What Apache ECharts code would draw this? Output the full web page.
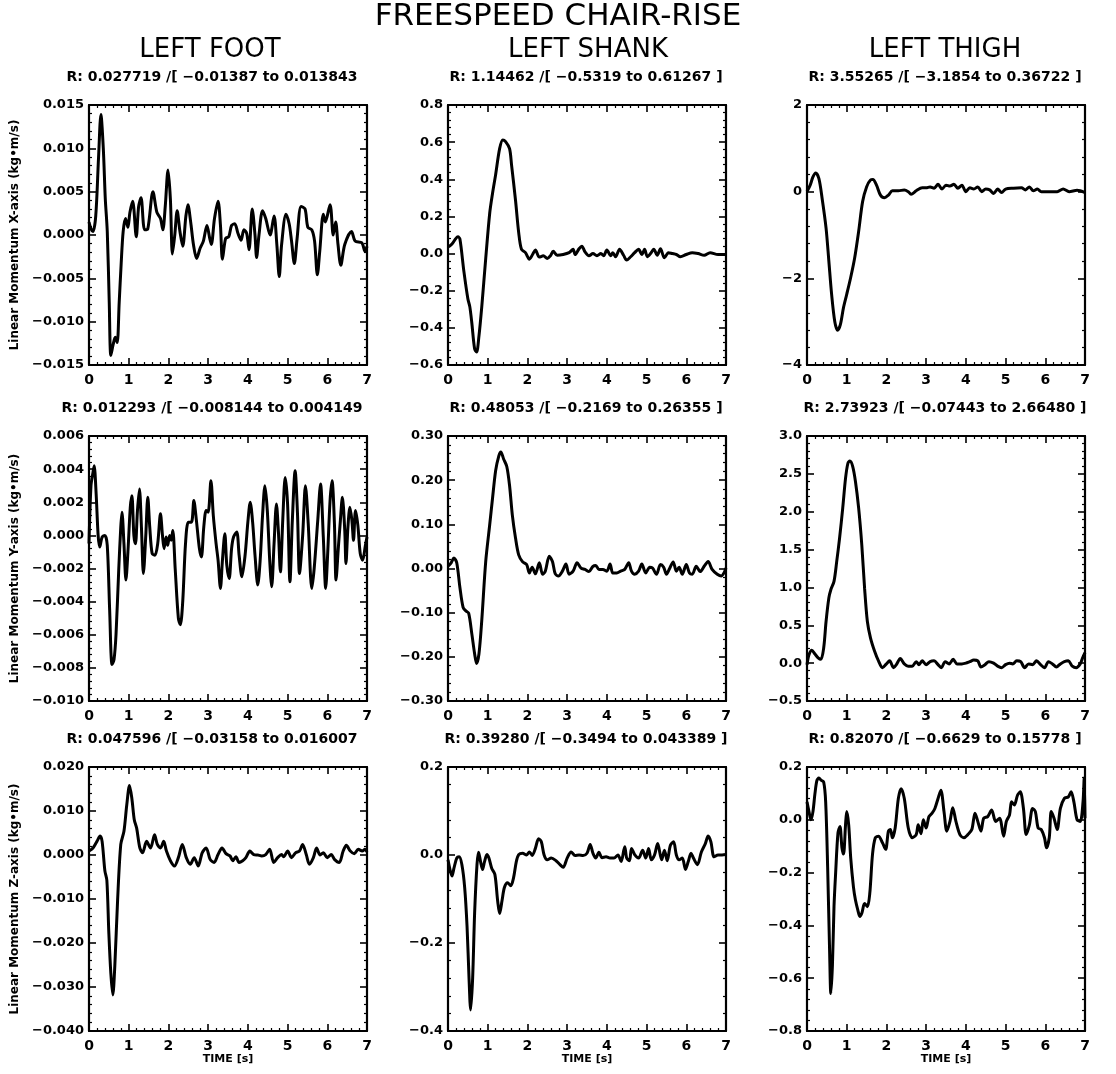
<!DOCTYPE html>
<html>
<head>
<meta charset="utf-8">
<script src="https://cdn.jsdelivr.net/npm/echarts@6/dist/echarts.min.js"></script>
<style>
html,body{margin:0;padding:0;background:#fff;}
#chart{width:1116px;height:1074px;}
</style>
</head>
<body>
<div id="chart"></div>
<script>
// ---------------- DATA ----------------
const mainTitle = "FREESPEED CHAIR-RISE";
const columnTitles = ["LEFT FOOT", "LEFT SHANK", "LEFT THIGH"];
const rowAxisNames = [
  "Linear Momentum X-axis (kg\u2022m/s)",
  "Linear Momentum Y-axis (kg\u2022m/s)",
  "Linear Momentum Z-axis (kg\u2022m/s)"
];
const panelSubtitles = [
  "R: 0.027719 /[ -0.01387 to 0.013843",
  "R: 1.14462 /[ -0.5319 to 0.61267 ]",
  "R: 3.55265 /[ -3.1854 to 0.36722 ]",
  "R: 0.012293 /[ -0.008144 to 0.004149",
  "R: 0.48053 /[ -0.2169 to 0.26355 ]",
  "R: 2.73923 /[ -0.07443 to 2.66480 ]",
  "R: 0.047596 /[ -0.03158 to 0.016007",
  "R: 0.39280 /[ -0.3494 to 0.043389 ]",
  "R: 0.82070 /[ -0.6629 to 0.15778 ]"
];
const xAxisName = "TIME [s]";
const xTicks = {min: 0, max: 7, interval: 1};
// y axis ranges: [min, max, interval, decimals]
const yRanges = [
  [-0.015, 0.015, 0.005, 3], [-0.6, 0.8, 0.2, 1], [-4, 2, 2, 0],
  [-0.010, 0.006, 0.002, 3], [-0.30, 0.30, 0.10, 2], [-0.5, 3.0, 0.5, 1],
  [-0.040, 0.020, 0.010, 3], [-0.4, 0.2, 0.2, 1], [-0.8, 0.2, 0.2, 1]
];

// series: [time (s), momentum]
const footX = [[0,0.0015],[0.05,0.0007],[0.1,0.0004],[0.17,0.0022],[0.24,0.0089],[0.3,0.0139],[0.36,0.010],[0.41,0.0042],[0.46,0.0004],[0.51,-0.0078],[0.55,-0.0139],[0.61,-0.0126],[0.66,-0.0118],[0.71,-0.0124],[0.76,-0.0078],[0.81,-0.0033],[0.86,0.0004],[0.92,0.0019],[0.98,0.0009],[1.03,0.0026],[1.1,0.0039],[1.19,-0.0002],[1.25,0.0033],[1.31,0.0043],[1.4,0.0006],[1.48,0.0007],[1.61,0.005],[1.71,0.0026],[1.8,0.0019],[1.86,0.0006],[1.92,0.0033],[1.99,0.0075],[2.05,0.0041],[2.1,-0.0022],[2.16,0],[2.22,0.0028],[2.29,0.0004],[2.36,-0.0013],[2.44,0.0022],[2.49,0.0035],[2.56,0.0015],[2.63,-0.0011],[2.71,-0.0027],[2.8,-0.0015],[2.88,-0.0007],[2.97,0.0011],[3.04,-0.0004],[3.08,-0.0011],[3.16,0.0019],[3.25,0.0039],[3.31,0.0011],[3.36,-0.0028],[3.44,-0.0004],[3.52,-0.0002],[3.59,0.0011],[3.67,0.0013],[3.75,0.0002],[3.83,-0.0006],[3.9,0.0006],[3.97,0.0002],[4.03,-0.0017],[4.11,0.003],[4.18,0],[4.22,-0.0026],[4.28,0],[4.37,0.0028],[4.45,0.0019],[4.56,0],[4.66,0.0022],[4.73,-0.0011],[4.79,-0.0048],[4.85,-0.0011],[4.96,0.0024],[5.04,0.0013],[5.1,-0.0007],[5.17,-0.0033],[5.24,-0.0004],[5.34,0.0033],[5.44,0.003],[5.51,0.0009],[5.61,0.0006],[5.68,-0.0007],[5.75,-0.0046],[5.81,-0.0019],[5.9,0.0024],[5.95,0.0015],[6.07,0.0035],[6.15,0],[6.21,0.0015],[6.27,-0.0011],[6.34,-0.0035],[6.44,-0.0011],[6.61,0.0004],[6.7,-0.0007],[6.87,-0.0009],[6.95,-0.0019],[7.0,-0.0013]];

const shankX = [[0,0.035],[0.1,0.052],[0.2,0.082],[0.25,0.09],[0.3,0.078],[0.4,-0.096],[0.5,-0.243],[0.55,-0.287],[0.6,-0.374],[0.67,-0.513],[0.72,-0.53],[0.78,-0.443],[0.85,-0.287],[0.95,-0.026],[1.05,0.217],[1.12,0.322],[1.2,0.426],[1.3,0.565],[1.38,0.612],[1.45,0.603],[1.55,0.565],[1.6,0.478],[1.7,0.287],[1.78,0.113],[1.85,0.023],[1.95,0.005],[2.05,-0.03],[2.13,-0.005],[2.2,0.019],[2.3,-0.019],[2.4,-0.012],[2.5,-0.026],[2.58,-0.012],[2.65,0.012],[2.75,-0.009],[2.9,-0.005],[3.05,0.005],[3.15,0.023],[3.2,-0.005],[3.3,0.026],[3.37,0.04],[3.45,0.009],[3.55,-0.012],[3.65,0],[3.75,-0.012],[3.85,0],[3.92,-0.012],[4.0,0.019],[4.1,-0.012],[4.15,0.005],[4.22,-0.017],[4.32,0.023],[4.42,-0.009],[4.5,-0.035],[4.6,-0.017],[4.7,0.005],[4.8,0.023],[4.88,-0.005],[4.95,0.023],[5.02,-0.017],[5.1,0],[5.18,0.023],[5.27,-0.009],[5.35,0.026],[5.45,-0.023],[5.55,0.005],[5.65,0],[5.75,-0.005],[5.85,-0.017],[6.0,-0.005],[6.15,0.005],[6.3,0],[6.45,-0.009],[6.6,0.005],[6.8,-0.005],[7.0,-0.005]];

const thighX = [[0,0],[0.08,0.15],[0.15,0.34],[0.22,0.43],[0.3,0.3],[0.38,-0.15],[0.48,-0.84],[0.55,-1.6],[0.62,-2.37],[0.7,-3.0],[0.77,-3.2],[0.84,-3.07],[0.92,-2.67],[1.0,-2.37],[1.1,-1.98],[1.2,-1.53],[1.3,-0.92],[1.4,-0.23],[1.5,0.11],[1.6,0.27],[1.66,0.28],[1.75,0.15],[1.85,-0.08],[1.95,-0.14],[2.05,-0.08],[2.15,0.02],[2.3,0.02],[2.45,0.04],[2.55,0],[2.62,-0.06],[2.75,0.02],[2.9,0.09],[3.0,0.09],[3.1,0.11],[3.2,0.08],[3.3,0.17],[3.4,0.06],[3.5,0.15],[3.6,0.13],[3.7,0.17],[3.8,0.08],[3.9,0.15],[4.0,0],[4.1,0.09],[4.2,0.06],[4.3,0.11],[4.4,0],[4.5,0.06],[4.6,0.04],[4.7,-0.04],[4.8,0.06],[4.9,-0.02],[5.0,0.06],[5.2,0.08],[5.4,0.09],[5.5,0.04],[5.6,0.11],[5.7,0.02],[5.8,0.06],[5.9,0],[6.1,0],[6.3,0],[6.45,0.06],[6.6,0],[6.8,0.03],[7.0,-0.02]];

const footY = [[0,-0.0005],[0.05,0.003],[0.1,0.0038],[0.13,0.0042],[0.18,0.0025],[0.23,0.0],[0.27,-0.0007],[0.33,-0.0001],[0.4,0],[0.46,-0.0006],[0.52,-0.0045],[0.58,-0.0078],[0.63,-0.0075],[0.68,-0.006],[0.75,-0.002],[0.8,0.0005],[0.83,0.0014],[0.88,-0.0005],[0.93,-0.0027],[0.98,-0.001],[1.04,0.0017],[1.08,0.0024],[1.13,0.0],[1.17,-0.0005],[1.22,0.0015],[1.27,0.0028],[1.32,0.0005],[1.37,-0.0023],[1.43,0],[1.48,0.0023],[1.53,0.0005],[1.59,-0.0011],[1.66,-0.0012],[1.73,-0.0005],[1.8,0.0013],[1.85,0],[1.89,-0.0008],[1.94,-0.0001],[1.98,-0.0006],[2.03,0],[2.07,-0.0003],[2.11,0.0003],[2.17,-0.002],[2.25,-0.005],[2.3,-0.0054],[2.36,-0.004],[2.43,-0.0005],[2.5,0.0008],[2.58,0.0008],[2.64,0.0021],[2.7,0.001],[2.78,-0.0008],[2.83,-0.0013],[2.89,0.0005],[2.95,0.0015],[3.0,0.0014],[3.07,0.0033],[3.13,0.0012],[3.2,-0.0005],[3.25,-0.0015],[3.31,-0.0032],[3.36,-0.0015],[3.42,0.0001],[3.47,-0.0018],[3.53,-0.0026],[3.59,-0.0008],[3.64,-0.0001],[3.72,0.0002],[3.78,-0.0012],[3.85,-0.0025],[3.93,-0.0012],[4.0,0.0008],[4.06,0.002],[4.12,0.0008],[4.18,-0.0012],[4.25,-0.003],[4.31,-0.0015],[4.37,0.0012],[4.43,0.003],[4.49,0.0015],[4.55,-0.0015],[4.6,-0.0031],[4.66,-0.0005],[4.72,0.0019],[4.77,0.0002],[4.82,-0.0022],[4.88,0.001],[4.94,0.0035],[5.0,0.0019],[5.06,-0.0028],[5.12,0.0009],[5.19,0.0039],[5.25,0.0013],[5.3,-0.0023],[5.38,0.0],[5.45,0.003],[5.52,0.0007],[5.61,-0.0032],[5.67,-0.002],[5.76,0.0009],[5.83,0.0031],[5.9,-0.0001],[5.96,-0.0032],[6.01,-0.0011],[6.07,0.0021],[6.12,0.0033],[6.18,0.0007],[6.22,-0.0027],[6.28,-0.0007],[6.33,0.0009],[6.38,0.0023],[6.44,0.0003],[6.47,-0.0017],[6.52,0.0005],[6.57,0.0017],[6.62,0.0009],[6.66,-0.0003],[6.71,0.0015],[6.77,0.0006],[6.83,-0.0011],[6.89,-0.0015],[6.96,-0.0006],[7.0,-0.0001]];

const shankY = [[0,0.005],[0.08,0.013],[0.15,0.024],[0.22,0.013],[0.3,-0.043],[0.38,-0.088],[0.45,-0.096],[0.52,-0.101],[0.6,-0.148],[0.67,-0.193],[0.72,-0.215],[0.78,-0.193],[0.85,-0.118],[0.95,0.016],[1.05,0.099],[1.12,0.158],[1.2,0.222],[1.28,0.255],[1.33,0.264],[1.4,0.248],[1.48,0.231],[1.55,0.188],[1.62,0.121],[1.7,0.069],[1.78,0.031],[1.88,0.015],[1.98,0.009],[2.05,-0.01],[2.12,0.003],[2.2,-0.012],[2.3,0.013],[2.38,-0.013],[2.45,-0.006],[2.55,0.028],[2.63,0.016],[2.7,-0.012],[2.78,-0.017],[2.88,-0.006],[2.97,0.01],[3.05,-0.013],[3.15,-0.006],[3.25,0.013],[3.35,0.001],[3.45,-0.002],[3.55,-0.007],[3.65,0.005],[3.72,0.007],[3.8,-0.002],[3.9,-0.002],[4.0,-0.006],[4.08,0.01],[4.15,-0.01],[4.25,-0.01],[4.35,-0.006],[4.45,-0.002],[4.55,0.013],[4.62,-0.006],[4.7,-0.013],[4.8,-0.006],[4.88,0.01],[4.98,-0.01],[5.08,0.003],[5.15,0.001],[5.25,-0.013],[5.35,0.009],[5.43,0.003],[5.5,-0.013],[5.58,0],[5.67,0.015],[5.75,-0.006],[5.82,0.003],[5.9,-0.013],[6.0,0.009],[6.08,-0.01],[6.15,-0.013],[6.25,0.005],[6.35,-0.007],[6.45,0.005],[6.55,0.016],[6.65,-0.002],[6.78,-0.013],[6.88,-0.017],[6.95,-0.01],[7.0,0.001]];

const thighY = [[0,-0.02],[0.05,0.11],[0.12,0.17],[0.2,0.12],[0.28,0.07],[0.35,0.05],[0.42,0.2],[0.48,0.55],[0.55,0.86],[0.6,0.97],[0.68,1.08],[0.75,1.35],[0.82,1.65],[0.9,2.05],[0.97,2.44],[1.03,2.64],[1.08,2.67],[1.15,2.6],[1.22,2.4],[1.3,2.05],[1.38,1.56],[1.45,0.99],[1.52,0.55],[1.6,0.33],[1.7,0.16],[1.8,0.03],[1.9,-0.06],[2.0,-0.01],[2.08,0.03],[2.18,-0.06],[2.25,-0.02],[2.35,0.06],[2.45,-0.01],[2.55,-0.04],[2.65,-0.04],[2.75,0.02],[2.82,-0.02],[2.9,0.03],[3.0,-0.02],[3.1,0.02],[3.2,0.03],[3.3,-0.02],[3.38,-0.06],[3.48,0.02],[3.58,-0.01],[3.68,0.05],[3.78,-0.01],[3.9,-0.01],[4.0,0],[4.1,0.02],[4.2,0.04],[4.3,0.03],[4.38,-0.05],[4.48,-0.02],[4.58,0.02],[4.7,0],[4.8,-0.04],[4.9,-0.06],[5.0,-0.02],[5.1,0],[5.18,-0.01],[5.28,0.03],[5.38,0.02],[5.48,-0.06],[5.58,-0.01],[5.68,-0.02],[5.78,0.03],[5.88,-0.02],[5.98,-0.06],[6.08,0.02],[6.18,-0.01],[6.28,-0.05],[6.38,-0.01],[6.48,0.02],[6.58,0.03],[6.68,-0.04],[6.78,-0.06],[6.88,-0.01],[6.94,0.07],[7.0,0.14]];

const footZ = [[0,0.0009],[0.1,0.0016],[0.2,0.0031],[0.28,0.0043],[0.33,0.0031],[0.4,-0.0036],[0.45,-0.0058],[0.5,-0.0178],[0.55,-0.0269],[0.6,-0.0318],[0.65,-0.0252],[0.72,-0.0103],[0.8,0.0024],[0.88,0.0054],[0.95,0.0113],[1.02,0.0158],[1.08,0.0128],[1.14,0.008],[1.2,0.0061],[1.28,0.0016],[1.35,0.0005],[1.45,0.0031],[1.55,0.0016],[1.65,0.0046],[1.72,0.0024],[1.8,0.0016],[1.88,0.0031],[1.95,0.0009],[2.05,-0.0013],[2.15,-0.0025],[2.25,-0.0006],[2.35,0.0024],[2.45,-0.0006],[2.55,-0.0021],[2.65,-0.0006],[2.75,-0.0025],[2.85,0.0005],[2.95,0.0016],[3.05,-0.001],[3.15,-0.0017],[3.25,0.0001],[3.35,0.0016],[3.45,0.0003],[3.55,-0.0002],[3.62,-0.0013],[3.7,-0.0004],[3.78,-0.0017],[3.87,-0.0013],[3.95,-0.0006],[4.05,0.0009],[4.15,0.0001],[4.25,0],[4.35,-0.0002],[4.45,0.0001],[4.55,0.0013],[4.65,-0.0017],[4.75,-0.0006],[4.85,0.0001],[4.9,-0.0004],[5.0,0.0009],[5.1,-0.0006],[5.2,0.0005],[5.3,0.0009],[5.38,0.0024],[5.47,0.0001],[5.55,-0.0021],[5.65,-0.0006],[5.73,0.0016],[5.82,0],[5.9,0.0005],[6.0,-0.0006],[6.1,0.0001],[6.18,-0.001],[6.3,-0.0017],[6.4,0.0009],[6.48,0.0022],[6.58,0.0009],[6.68,0.0003],[6.78,0.0013],[6.88,0.0009],[6.95,0.0013],[7.0,0.0007]];

const shankZ = [[0,-0.011],[0.05,-0.033],[0.1,-0.048],[0.15,-0.03],[0.22,-0.007],[0.28,-0.004],[0.35,-0.022],[0.42,-0.074],[0.48,-0.163],[0.53,-0.281],[0.57,-0.352],[0.62,-0.281],[0.67,-0.133],[0.73,-0.022],[0.77,0.006],[0.82,-0.015],[0.87,-0.033],[0.92,-0.015],[0.98,0.001],[1.03,-0.007],[1.1,-0.03],[1.18,-0.044],[1.25,-0.104],[1.3,-0.133],[1.36,-0.104],[1.42,-0.074],[1.5,-0.063],[1.58,-0.07],[1.65,-0.052],[1.72,-0.015],[1.78,0.001],[1.88,0.004],[1.98,0],[2.05,0.007],[2.12,-0.001],[2.2,0.015],[2.28,0.037],[2.35,0.03],[2.42,0],[2.5,-0.011],[2.6,-0.007],[2.72,-0.013],[2.82,-0.022],[2.9,-0.028],[3.0,-0.007],[3.1,0.007],[3.2,-0.001],[3.3,0],[3.4,-0.001],[3.5,0.004],[3.58,0.024],[3.65,0.004],[3.72,-0.007],[3.8,0.006],[3.88,-0.006],[3.98,-0.004],[4.08,-0.007],[4.18,-0.007],[4.28,0],[4.36,-0.015],[4.45,0.019],[4.5,-0.007],[4.57,-0.013],[4.62,0.015],[4.7,0.001],[4.8,-0.007],[4.9,0.011],[4.98,-0.007],[5.05,0.015],[5.12,-0.011],[5.2,0],[5.28,0.026],[5.38,-0.011],[5.45,0.011],[5.52,-0.013],[5.6,0.022],[5.68,0.03],[5.75,0],[5.82,-0.011],[5.9,-0.007],[5.98,-0.033],[6.05,-0.015],[6.12,0.004],[6.18,-0.007],[6.28,-0.022],[6.38,0.007],[6.48,0.026],[6.55,0.043],[6.62,0.03],[6.7,-0.004],[6.8,0],[6.9,0],[7.0,0.001]];

const thighZ = [[0,0.068],[0.05,0.031],[0.1,0],[0.15,0.031],[0.2,0.099],[0.25,0.149],[0.3,0.158],[0.36,0.149],[0.42,0.143],[0.47,0.068],[0.52,-0.18],[0.57,-0.503],[0.6,-0.658],[0.64,-0.553],[0.68,-0.329],[0.72,-0.205],[0.78,-0.05],[0.83,-0.025],[0.88,-0.106],[0.92,-0.13],[0.97,-0.019],[1.0,0.031],[1.05,-0.019],[1.1,-0.143],[1.17,-0.255],[1.22,-0.304],[1.28,-0.342],[1.33,-0.366],[1.38,-0.354],[1.45,-0.317],[1.52,-0.329],[1.58,-0.28],[1.65,-0.13],[1.72,-0.068],[1.8,-0.062],[1.9,-0.087],[1.98,-0.112],[2.05,-0.043],[2.1,-0.037],[2.15,-0.068],[2.22,-0.031],[2.3,0.081],[2.37,0.118],[2.45,0.081],[2.55,-0.031],[2.65,-0.068],[2.75,-0.056],[2.8,-0.019],[2.87,-0.053],[2.93,0],[3.0,-0.031],[3.07,0.012],[3.15,0.025],[3.22,0.043],[3.3,0.081],[3.37,0.112],[3.45,0.031],[3.52,-0.043],[3.6,-0.006],[3.67,0.046],[3.75,-0.006],[3.85,-0.056],[3.95,-0.068],[4.05,-0.056],[4.15,-0.037],[4.23,0.025],[4.3,-0.006],[4.38,-0.043],[4.45,0.006],[4.55,0.012],[4.65,0.037],[4.75,-0.006],[4.85,0.006],[4.95,-0.062],[5.02,-0.006],[5.1,0.019],[5.15,0.068],[5.22,0.056],[5.3,0.093],[5.37,0.106],[5.45,0.043],[5.52,-0.056],[5.6,-0.019],[5.68,0.043],[5.75,0.031],[5.82,-0.031],[5.9,-0.037],[5.98,-0.068],[6.03,-0.106],[6.1,-0.068],[6.15,0.031],[6.22,0.006],[6.3,-0.037],[6.38,0.043],[6.48,0.081],[6.58,0.087],[6.65,0.106],[6.72,0.068],[6.8,0],[6.88,-0.006],[6.95,0.068],[6.98,0.158],[7.0,0.006]];

const panelSeries = [footX, shankX, thighX, footY, shankY, thighY, footZ, shankZ, thighZ];

// ---------------- LAYOUT ----------------
const colLeft = [89, 448, 807];
const colWidth = 278;
const rowTop = [105, 436, 767];
const rowHeight = [260, 265, 264];
const colCenter = [212, 586, 945];

const FONT = '"DejaVu Sans", "Liberation Sans", sans-serif';
const minus = s => s.replace(/-/g, '\u2212');

const grids = [], xAxes = [], yAxes = [], series = [], graphics = [];

const tickCommon = {
  axisLine: {show: true, onZero: false, lineStyle: {color: '#000', width: 2.2}},
  axisTick: {show: true, inside: true, length: 7, lineStyle: {color: '#000', width: 1.6}},
  minorTick: {show: true, splitNumber: 5, length: 3, lineStyle: {color: '#000', width: 1.2}},
  splitLine: {show: false},
  minorSplitLine: {show: false}
};

for (let i = 0; i < 9; i++) {
  const r = Math.floor(i / 3), c = i % 3;
  grids.push({left: colLeft[c], top: rowTop[r], width: colWidth, height: rowHeight[r],
              show: false, containLabel: false});
  const [ymin, ymax, yint, dec] = yRanges[i];

  xAxes.push(Object.assign({}, tickCommon, {
    type: 'value', gridIndex: i, position: 'bottom',
    min: xTicks.min, max: xTicks.max, interval: xTicks.interval,
    axisLabel: {show: true, color: '#000', fontFamily: FONT, fontWeight: 'bold', fontSize: 14, margin: 8},
    name: r === 2 ? xAxisName : '',
    nameLocation: 'middle', nameGap: 22,
    nameTextStyle: {color: '#000', fontFamily: FONT, fontWeight: 'bold', fontSize: 11}
  }));
  xAxes.push(Object.assign({}, tickCommon, {
    type: 'value', gridIndex: i, position: 'top',
    min: xTicks.min, max: xTicks.max, interval: xTicks.interval,
    axisLabel: {show: false}
  }));
  yAxes.push(Object.assign({}, tickCommon, {
    type: 'value', gridIndex: i, position: 'left',
    min: ymin, max: ymax, interval: yint,
    axisLabel: {show: true, color: '#000', fontFamily: FONT, fontWeight: 'bold', fontSize: 13, margin: 5,
                formatter: v => minus(Number(v).toFixed(dec))}
  }));
  yAxes.push(Object.assign({}, tickCommon, {
    type: 'value', gridIndex: i, position: 'right',
    min: ymin, max: ymax, interval: yint,
    axisLabel: {show: false}
  }));

  series.push({
    type: 'line', xAxisIndex: 2 * i, yAxisIndex: 2 * i,
    data: panelSeries[i], showSymbol: false, smooth: 0.3,
    lineStyle: {color: '#000', width: 3}, silent: true, animation: false, clip: true
  });

  graphics.push({
    type: 'text', x: colCenter[c], y: rowTop[r] - 28,
    style: {text: minus(panelSubtitles[i]), fill: '#000', fontFamily: FONT, fontWeight: 'bold', fontSize: 14,
            align: 'center', verticalAlign: 'middle'}
  });
}

graphics.push({
  type: 'text', x: 558, y: 17,
  style: {text: mainTitle, fill: '#000', fontFamily: FONT, fontWeight: 'normal', fontSize: 31,
          align: 'center', verticalAlign: 'middle'}
});
for (let c = 0; c < 3; c++) {
  graphics.push({
    type: 'text', x: [210, 588, 945][c], y: 50,
    style: {text: columnTitles[c], fill: '#000', fontFamily: FONT, fontWeight: 'normal', fontSize: 26,
            align: 'center', verticalAlign: 'middle'}
  });
}
for (let r = 0; r < 3; r++) {
  graphics.push({
    type: 'text', x: 15, y: rowTop[r] + rowHeight[r] / 2, rotation: Math.PI / 2,
    style: {text: rowAxisNames[r], fill: '#000', fontFamily: FONT, fontWeight: 'bold', fontSize: 12,
            align: 'center', verticalAlign: 'middle'}
  });
}

const chart = echarts.init(document.getElementById('chart'), null, {renderer: 'canvas'});
chart.setOption({
  backgroundColor: '#fff',
  animation: false,
  grid: grids,
  xAxis: xAxes,
  yAxis: yAxes,
  series: series,
  graphic: graphics
});
</script>
</body>
</html>
